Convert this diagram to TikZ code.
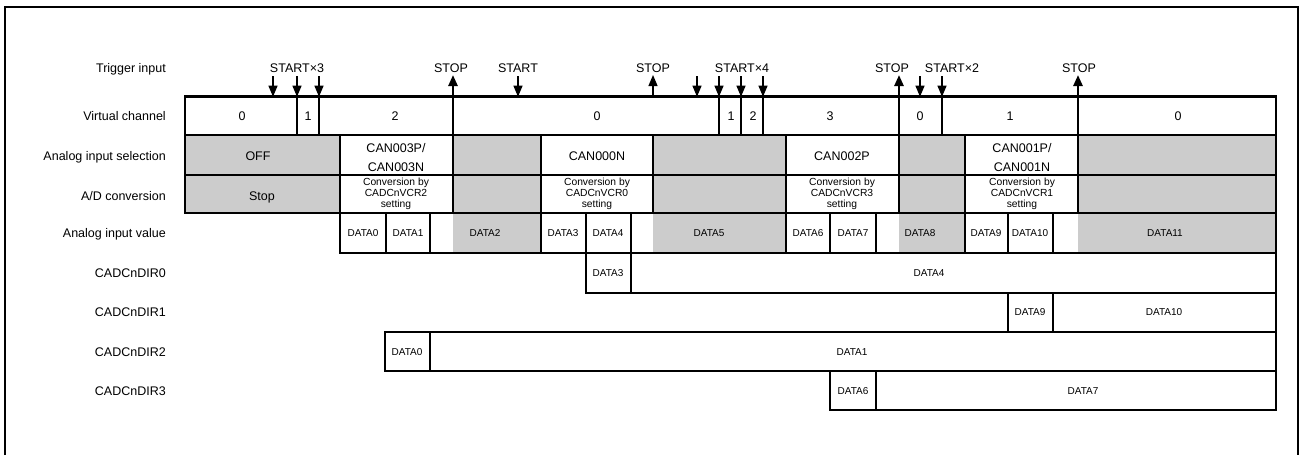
\documentclass[tikz,border=0pt]{standalone}
\usepackage{fontspec}
\setmainfont{Liberation Sans}
\usetikzlibrary{arrows.meta}
\definecolor{cellgray}{RGB}{204,204,204}
\begin{document}
\begin{tikzpicture}[x=1pt,y=-1pt,
  grid/.style={line width=2.5pt, line cap=rect},
  frame/.style={line width=2pt},
  big/.style={font=\fontsize{12.5}{18}\selectfont, inner sep=0pt, text height=9pt, text depth=0pt},
  lbl/.style={big, anchor=east},
  multi/.style={font=\fontsize{12.5}{18.5}\selectfont, inner sep=0pt, align=center},
  conv/.style={font=\fontsize{10.3}{11.3}\selectfont, inner sep=0pt, align=center},
  dat/.style={font=\fontsize{10}{11}\selectfont, inner sep=0pt, text height=7pt, text depth=0pt},
  startarr/.style={line width=1.2pt, -{Triangle[width=9pt,length=11pt]}},
  stoparr/.style={line width=2.5pt, -{Triangle[width=9pt,length=11pt]}},
  thinstop/.style={line width=1.2pt, -{Triangle[width=9pt,length=11pt]}}
]
\useasboundingbox (0,0) rectangle (1300,455);
\draw[frame] (5,455) -- (5,7) -- (1298,7) -- (1298,455);

% gray fills
\fill[cellgray] (185,135) rectangle (340,213);
\fill[cellgray] (453,135) rectangle (541,253);
\fill[cellgray] (653,135) rectangle (786,253);
\fill[cellgray] (899,135) rectangle (965,253);
\fill[cellgray] (1078,135) rectangle (1276,253);

% horizontal grid lines
\draw[grid] (185,96.7) -- (1276,96.7);
\draw[grid] (185,135) -- (1276,135);
\draw[grid] (185,175) -- (1276,175);
\draw[grid] (185,213) -- (1276,213);
\draw[grid] (340,253) -- (1276,253);
\draw[grid] (586,293) -- (1276,293);
\draw[grid] (385,332) -- (1276,332);
\draw[grid] (385,371) -- (1276,371);
\draw[grid] (830,410) -- (1276,410);

% vertical grid lines
\draw[grid] (185,96.7) -- (185,213);
\draw[grid] (1276,96.7) -- (1276,410);
\foreach \x in {297,319,719,741,763,942} \draw[grid] (\x,96.7) -- (\x,135);
\foreach \x in {340,541,786,965} \draw[grid] (\x,135) -- (\x,253);
\draw[grid] (653,135) -- (653,213);
\foreach \x in {386,430,830,876,1008,1053} \draw[grid] (\x,213) -- (\x,253);
\foreach \x in {586,631} \draw[grid] (\x,213) -- (\x,293);
\foreach \x in {1008,1053} \draw[grid] (\x,293) -- (\x,332);
\foreach \x in {385,430} \draw[grid] (\x,332) -- (\x,371);
\foreach \x in {830,876} \draw[grid] (\x,371) -- (\x,410);

% trigger arrows
\foreach \x/\n in {273/a1,297/a2,319/a3,518/a4,697/a5,719/a6,741/a7,763/a8,920/a9,942/a10} {
  \coordinate (\n t) at (\x,76);
  \coordinate (\n b) at (\x,96.7);
  \draw[startarr] (\n t) -- (\n b);
}
\foreach \x/\n in {453/p1,899/p3,1078/p4} {
  \coordinate (\n b) at (\x,213);
  \coordinate (\n t) at (\x,75);
  \draw[stoparr] (\n b) -- (\n t);
}
\coordinate (p2b) at (653,96.7);
\coordinate (p2t) at (653,75);
\draw[thinstop] (p2b) -- (p2t);

% trigger texts
\node[big] (t1) at (297,68) {START×3};
\node[big] (t2) at (451,68) {STOP};
\node[big] (t3) at (518,68) {START};
\node[big] (t4) at (653,68) {STOP};
\node[big] (t5) at (742,68) {START×4};
\node[big] (t6) at (892,68) {STOP};
\node[big] (t7) at (952,68) {START×2};
\node[big] (t8) at (1079,68) {STOP};

% row labels
\node[lbl] (l1) at (166,68) {Trigger input};
\node[lbl] (l2) at (166,116) {Virtual channel};
\node[lbl] (l3) at (166,156) {Analog input selection};
\node[lbl] (l4) at (166,196) {A/D conversion};
\node[lbl] (l5) at (166,233) {Analog input value};
\node[lbl] (l6) at (166,273) {CADCnDIR0};
\node[lbl] (l7) at (166,312) {CADCnDIR1};
\node[lbl] (l8) at (166,352) {CADCnDIR2};
\node[lbl] (l9) at (166,391) {CADCnDIR3};

% virtual channel row
\node[big] (v1) at (242,116) {0};
\node[big] (v2) at (308,116) {1};
\node[big] (v3) at (395,116) {2};
\node[big] (v4) at (597,116) {0};
\node[big] (v5) at (731,116) {1};
\node[big] (v6) at (753,116) {2};
\node[big] (v7) at (830,116) {3};
\node[big] (v8) at (920,116) {0};
\node[big] (v9) at (1010,116) {1};
\node[big] (v10) at (1178,116) {0};

% analog input selection row
\node[big] (s1) at (258,156) {OFF};
\node[multi] (s2) at (396,157.5) {CAN003P/\\CAN003N};
\node[big] (s3) at (597,156) {CAN000N};
\node[big] (s4) at (842,156) {CAN002P};
\node[multi] (s5) at (1022,157.5) {CAN001P/\\CAN001N};

% A/D conversion row
\node[big] (c1) at (262,196) {Stop};
\node[conv] (c2) at (396,194) {Conversion by\\CADCnVCR2\\setting};
\node[conv] (c3) at (597,194) {Conversion by\\CADCnVCR0\\setting};
\node[conv] (c4) at (842,194) {Conversion by\\CADCnVCR3\\setting};
\node[conv] (c5) at (1022,194) {Conversion by\\CADCnVCR1\\setting};

% analog input value row
\node[dat] (d0) at (363,233) {DATA0};
\node[dat] (d1) at (408,233) {DATA1};
\node[dat] (d2) at (485,233) {DATA2};
\node[dat] (d3) at (563,233) {DATA3};
\node[dat] (d4) at (608,233) {DATA4};
\node[dat] (d5) at (709,233) {DATA5};
\node[dat] (d6) at (808,233) {DATA6};
\node[dat] (d7) at (853,233) {DATA7};
\node[dat] (d8) at (920,233) {DATA8};
\node[dat] (d9) at (986,233) {DATA9};
\node[dat] (d10) at (1030,233) {DATA10};
\node[dat] (d11) at (1165,233) {DATA11};

% CADCnDIR rows
\node[dat] (r0a) at (608,273) {DATA3};
\node[dat] (r0b) at (929,273) {DATA4};
\node[dat] (r1a) at (1030,312) {DATA9};
\node[dat] (r1b) at (1164,312) {DATA10};
\node[dat] (r2a) at (407,352) {DATA0};
\node[dat] (r2b) at (852,352) {DATA1};
\node[dat] (r3a) at (853,391) {DATA6};
\node[dat] (r3b) at (1083,391) {DATA7};
\end{tikzpicture}
\end{document}
